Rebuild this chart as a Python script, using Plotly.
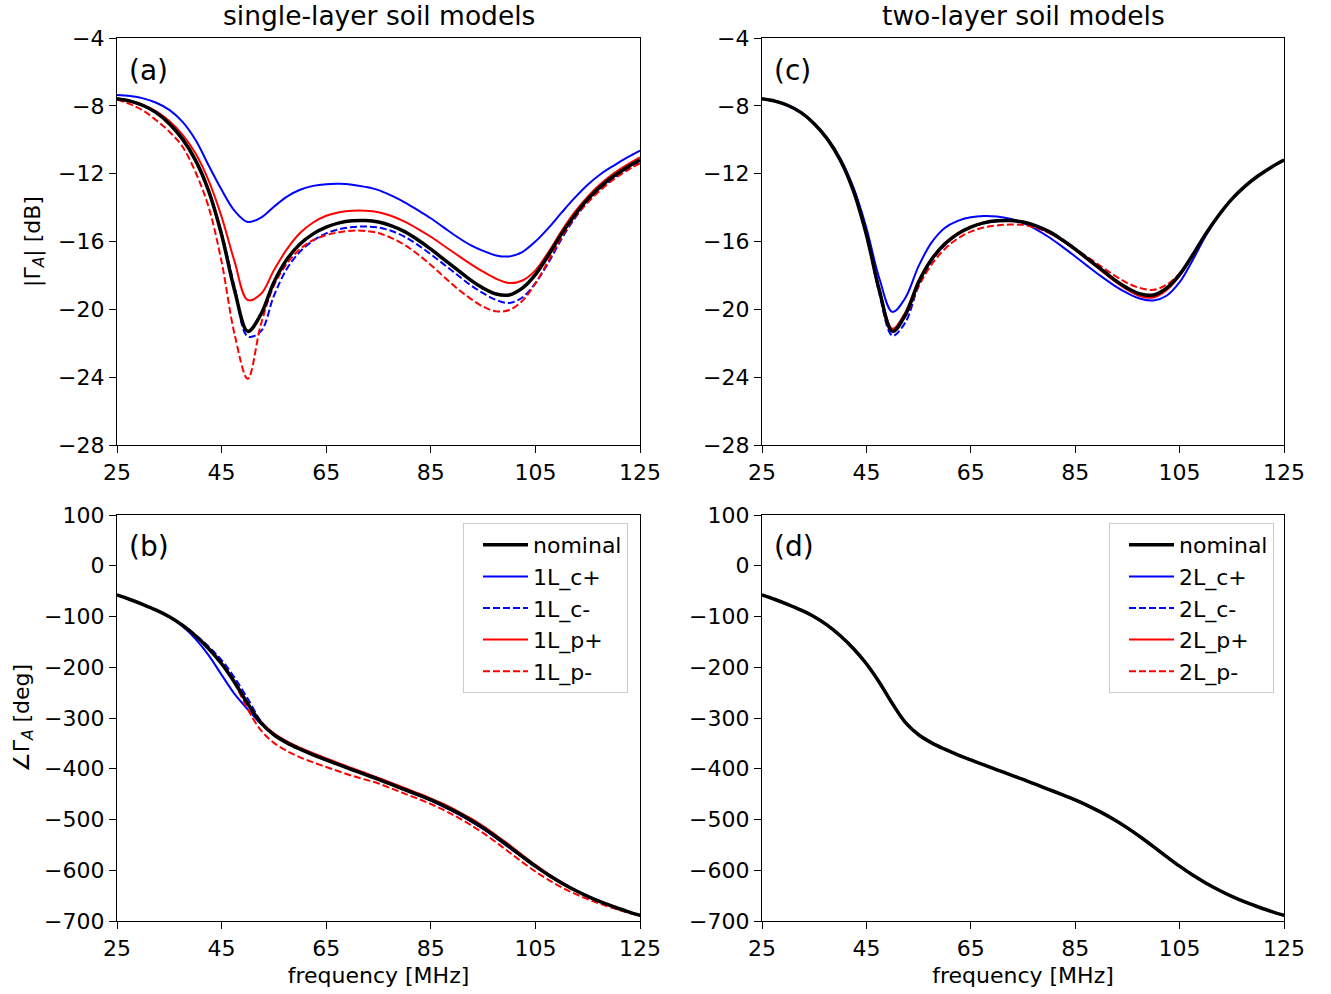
import plotly.graph_objects as go

# ---------------- data ----------------
FREQ = [25, 27.5, 30, 32.5, 35, 37.5, 40, 42.5, 45, 47.5, 50, 52.5, 55, 57.5, 60, 62.5, 65, 67.5, 70, 72.5,
        75, 77.5, 80, 82.5, 85, 87.5, 90, 92.5, 95, 97.5, 100, 102.5, 105, 107.5, 110, 112.5, 115, 117.5,
        120, 122.5, 125]

# |Gamma_A| [dB]
MAG_NOMINAL = [-7.58, -7.72, -7.98, -8.4, -9.05, -9.95, -11.2, -13.0, -15.6, -18.9, -21.3, -20.3, -18.4, -17.05,
               -16.15, -15.55, -15.15, -14.9, -14.78, -14.76, -14.85, -15.08, -15.42, -15.9, -16.45, -17.05,
               -17.65, -18.25, -18.75, -19.1, -19.15, -18.75, -17.95, -16.8, -15.55, -14.45, -13.5, -12.75,
               -12.14, -11.63, -11.2]
MAG_1L_CP = [-7.36, -7.42, -7.56, -7.82, -8.24, -8.93, -10.0, -11.5, -12.95, -14.2, -14.85, -14.6, -13.95,
             -13.35, -12.95, -12.72, -12.62, -12.6, -12.65, -12.78, -12.97, -13.3, -13.69, -14.15, -14.63,
             -15.18, -15.72, -16.2, -16.55, -16.82, -16.88, -16.62, -16.0, -15.2, -14.3, -13.43, -12.65,
             -12.02, -11.52, -11.06, -10.64]
MAG_1L_CM = [-7.6, -7.74, -8.0, -8.42, -9.05, -9.95, -11.2, -13.0, -15.5, -18.7, -21.6, -21.3, -19.2, -17.6,
             -16.6, -15.95, -15.52, -15.28, -15.15, -15.12, -15.17, -15.38, -15.72, -16.2, -16.75, -17.35,
             -17.95, -18.55, -19.05, -19.45, -19.62, -19.3, -18.45, -17.25, -15.85, -14.65, -13.65, -12.88,
             -12.25, -11.74, -11.29]
MAG_1L_PP = [-7.56, -7.7, -7.95, -8.33, -8.9, -9.7, -10.8, -12.4, -14.55, -17.2, -19.45, -19.1, -17.7, -16.45,
             -15.5, -14.88, -14.48, -14.27, -14.18, -14.18, -14.27, -14.5, -14.83, -15.25, -15.72, -16.25,
             -16.78, -17.3, -17.78, -18.2, -18.45, -18.3, -17.7, -16.62, -15.38, -14.27, -13.35, -12.6,
             -11.98, -11.48, -11.04]
MAG_1L_PM = [-7.62, -7.9, -8.28, -8.85, -9.52, -10.4, -11.9, -13.95, -17.2, -21.5, -24.1, -20.9, -18.6,
             -17.3, -16.45, -15.92, -15.62, -15.45, -15.36, -15.38, -15.5, -15.8, -16.2, -16.75, -17.38,
             -18.08, -18.76, -19.35, -19.84, -20.12, -20.04, -19.5, -18.48, -17.12, -15.74, -14.6, -13.71,
             -12.95, -12.33, -11.82, -11.39]

MAG_2L_CP = [-7.6, -7.74, -8.0, -8.42, -9.05, -9.92, -11.1, -12.8, -15.2, -18.2, -20.15, -19.3, -17.45, -16.05,
             -15.2, -14.78, -14.57, -14.5, -14.53, -14.66, -14.9, -15.28, -15.75, -16.3, -16.88, -17.48,
             -18.06, -18.6, -19.05, -19.38, -19.48, -19.2, -18.4, -17.1, -15.68, -14.48, -13.5, -12.76,
             -12.14, -11.63, -11.18]
MAG_2L_CM = [-7.58, -7.72, -7.98, -8.4, -9.05, -9.95, -11.2, -13.0, -15.6, -19.1, -21.55, -20.75, -18.6,
             -17.15, -16.22, -15.58, -15.17, -14.92, -14.8, -14.78, -14.87, -15.1, -15.45, -15.93, -16.48,
             -17.08, -17.68, -18.28, -18.78, -19.15, -19.2, -18.8, -17.98, -16.82, -15.55, -14.45, -13.5,
             -12.75, -12.14, -11.63, -11.2]
MAG_2L_PP = [-7.58, -7.72, -7.98, -8.4, -9.05, -9.95, -11.2, -13.0, -15.6, -18.85, -21.15, -20.15, -18.3,
             -17.0, -16.1, -15.5, -15.12, -14.88, -14.76, -14.76, -14.86, -15.1, -15.45, -15.95, -16.5,
             -17.1, -17.72, -18.33, -18.85, -19.23, -19.3, -18.88, -18.02, -16.83, -15.56, -14.45, -13.5,
             -12.75, -12.14, -11.63, -11.2]
MAG_2L_PM = [-7.58, -7.72, -7.98, -8.4, -9.05, -9.95, -11.2, -13.0, -15.6, -18.9, -21.25, -20.4, -18.65,
             -17.35, -16.45, -15.82, -15.42, -15.17, -15.05, -15.0, -15.02, -15.2, -15.5, -15.93, -16.43,
             -16.95, -17.48, -18.0, -18.45, -18.75, -18.85, -18.55, -17.88, -16.8, -15.6, -14.48, -13.5,
             -12.75, -12.14, -11.63, -11.2]

# angle Gamma_A [deg]
PH_NOMINAL = [-57.6, -66.5, -76.5, -87.5, -100.5, -117, -138, -163, -193, -230, -272, -309, -333, -349, -361.5,
              -372.5, -382.5, -392.5, -402, -411.5, -421, -431, -441, -451, -461.5, -473, -486, -500.5,
              -516.5, -534.5, -553.5, -573, -592, -609.5, -625, -639, -651.5, -662.5, -672, -681, -689]
PH_1L_CP = [-57.6, -66.5, -76.5, -87.5, -101, -119, -144, -176, -215, -253, -283, -311, -333, -349, -361.5,
            -372.5, -382.5, -392.5, -402, -411.5, -421, -431, -441.5, -452, -462.5, -475, -488, -502.5,
            -518.5, -536.5, -555.5, -574, -593, -610, -625, -639, -651.5, -662.5, -672, -681, -689]
PH_1L_CM = [-57.6, -66.5, -76.5, -87.5, -100.5, -116, -136, -159, -186, -221, -262, -306, -332.5, -349,
            -361.5, -372.5, -382.5, -392.5, -402, -411.5, -421, -431, -441, -451.5, -462, -474.5, -487.5,
            -502, -518, -536, -555, -574, -592.5, -609.5, -625, -639, -651.5, -662.5, -672, -681, -689]
PH_1L_PP = [-57.6, -66.5, -76.5, -87.5, -100.5, -117, -138, -162.5, -192, -228, -270, -307, -330, -346,
            -358.5, -369.5, -379.5, -389.5, -399, -408.5, -418, -428, -438, -448, -458.5, -470, -483, -497,
            -513, -531, -550, -570, -589.5, -607.5, -623.5, -638, -651, -662, -671.5, -680.5, -689]
PH_1L_PM = [-57.6, -66.5, -76.5, -87.5, -100.5, -117, -138, -163, -193, -232, -283, -324, -349, -365, -377.5,
            -387.5, -396.5, -405.5, -414, -421.5, -429, -439, -449, -459, -469.5, -481.5, -495, -510,
            -526.5, -545, -564.5, -584, -602.5, -619, -633.5, -646, -657, -666.5, -675, -683, -690]

PH_2L_CP = [-57.6, -66.5, -76.5, -87.5, -100.5, -117, -138.5, -164, -194, -231, -272.5, -309.5, -333, -349,
            -361.5, -372.5, -382.5, -392.5, -402, -411.5, -421, -431, -441, -451.5, -462, -474, -487, -501.5,
            -517.5, -535.5, -554.5, -574, -592.5, -609.5, -625, -639, -651.5, -662.5, -672, -681, -689]
PH_2L_CM = [-57.6, -66.5, -76.5, -87.5, -100.5, -117, -138, -163, -192.5, -229.5, -271.5, -309, -333, -349,
            -361.5, -372.5, -382.5, -392.5, -402, -411.5, -421, -431, -441, -451, -461.5, -473, -486, -500.5,
            -516.5, -534.5, -553.5, -573, -592, -609.5, -625, -639, -651.5, -662.5, -672, -681, -689]
PH_2L_PP = [-57.6, -66.5, -76.5, -87.5, -100.5, -117, -138, -163, -193, -230, -272, -309, -333, -349, -361.5,
            -372.5, -382.5, -392.5, -402, -411.5, -421, -431, -441, -451, -461.5, -473, -486, -500.5,
            -516.5, -534.5, -553.5, -573, -592, -609.5, -625, -639, -651.5, -662.5, -672, -681, -689]
PH_2L_PM = [-57.6, -66.5, -76.5, -87.5, -100.5, -117, -138, -163, -193, -230.5, -272.5, -309.5, -333, -349,
            -361.5, -372.5, -382.5, -392.5, -402, -411.5, -421, -431, -441, -451, -461.5, -473, -486, -500.5,
            -516.5, -534.5, -553.5, -573, -592, -609.5, -625, -639, -651.5, -662.5, -672, -681, -689]

NAMES_1L = ["1L_c+", "1L_c-", "1L_p+", "1L_p-"]
NAMES_2L = ["2L_c+", "2L_c-", "2L_p+", "2L_p-"]
X_TICKS = [25, 45, 65, 85, 105, 125]
MAG_TICKS = [-28, -24, -20, -16, -12, -8, -4]
PH_TICKS = [-700, -600, -500, -400, -300, -200, -100, 0, 100]

# ---------------- styling ----------------
FONT = "DejaVu Sans"
W, H = 1331, 994
STYLES = [("#0000ff", "solid"), ("#0000ff", "7px,3px"), ("#ff0000", "solid"), ("#ff0000", "7px,3px")]

fig = go.Figure()

panels = [
    ("x", "y", MAG_NOMINAL, [MAG_1L_CP, MAG_1L_CM, MAG_1L_PP, MAG_1L_PM], NAMES_1L, None),
    ("x2", "y2", MAG_NOMINAL, [MAG_2L_CP, MAG_2L_CM, MAG_2L_PP, MAG_2L_PM], NAMES_2L, None),
    ("x3", "y3", PH_NOMINAL, [PH_1L_CP, PH_1L_CM, PH_1L_PP, PH_1L_PM], NAMES_1L, "legend"),
    ("x4", "y4", PH_NOMINAL, [PH_2L_CP, PH_2L_CM, PH_2L_PP, PH_2L_PM], NAMES_2L, "legend2"),
]

for xa, ya, nom, variants, names, leg in panels:
    show = leg is not None
    for i, (vals, nm) in enumerate(zip(variants, names)):
        col, dash = STYLES[i]
        kw = dict(legend=leg) if show else {}
        fig.add_trace(go.Scatter(
            x=FREQ, y=vals, name=nm, mode="lines", xaxis=xa, yaxis=ya,
            line=dict(color=col, width=2, dash=dash, shape="spline", smoothing=1.0),
            showlegend=show, legendrank=i + 2, legendgroup=(leg or "") + nm, **kw))
    kw = dict(legend=leg) if show else {}
    fig.add_trace(go.Scatter(
        x=FREQ, y=nom, name="nominal", mode="lines", xaxis=xa, yaxis=ya,
        line=dict(color="black", width=3.5, shape="spline", smoothing=1.0),
        showlegend=show, legendrank=1, legendgroup=(leg or "") + "nominal", **kw))


def px_x(p):
    return p / W


def px_y(p):
    return 1 - p / H


XD_L = [px_x(117), px_x(640)]
XD_R = [px_x(762), px_x(1284)]
YD_T = [px_y(445), px_y(38)]
YD_B = [px_y(921), px_y(515)]

axis_common = dict(
    showline=True, linecolor="black", linewidth=1.3, mirror=True,
    ticks="outside", ticklen=7, tickwidth=1.3, tickcolor="black",
    showgrid=False, zeroline=False, automargin=False,
    tickfont=dict(family=FONT, size=22, color="black"),
)

xcommon = dict(axis_common, range=[25, 125], tickvals=X_TICKS)
title_font = dict(family=FONT, size=22, color="black")
leg_common = dict(yanchor="top", xanchor="right", y=px_y(523),
                  bgcolor="rgba(255,255,255,0.8)", bordercolor="#cccccc", borderwidth=1,
                  font=dict(family=FONT, size=22, color="black"), itemwidth=45,
                  tracegroupgap=0, traceorder="grouped", indentation=14)

fig.update_layout(
    width=W, height=H,
    margin=dict(l=0, r=0, t=0, b=0, autoexpand=False),
    paper_bgcolor="white", plot_bgcolor="white",
    font=dict(family=FONT, color="black"),
    xaxis=dict(xcommon, domain=XD_L, anchor="y"),
    yaxis=dict(axis_common, domain=YD_T, anchor="x", range=[-28, -4], tickvals=MAG_TICKS,
               title=dict(text="|Γ<sub><i>A</i></sub>| [dB]", font=title_font, standoff=11)),
    xaxis2=dict(xcommon, domain=XD_R, anchor="y2"),
    yaxis2=dict(axis_common, domain=YD_T, anchor="x2", range=[-28, -4], tickvals=MAG_TICKS),
    xaxis3=dict(xcommon, domain=XD_L, anchor="y3",
                title=dict(text="frequency [MHz]", font=title_font, standoff=8)),
    yaxis3=dict(axis_common, domain=YD_B, anchor="x3", range=[-700, 100], tickvals=PH_TICKS,
                title=dict(text="∠Γ<sub><i>A</i></sub> [deg]", font=title_font, standoff=8)),
    xaxis4=dict(xcommon, domain=XD_R, anchor="y4",
                title=dict(text="frequency [MHz]", font=title_font, standoff=8)),
    yaxis4=dict(axis_common, domain=YD_B, anchor="x4", range=[-700, 100], tickvals=PH_TICKS),
    legend=dict(leg_common, x=px_x(628)),
    legend2=dict(leg_common, x=px_x(1274)),
)

annots = [
    ("single-layer soil models", px_x(378.5), px_y(15), "center", 26.5),
    ("two-layer soil models", px_x(1023), px_y(15), "center", 26.5),
    ("(a)", px_x(127), px_y(70), "left", 28),
    ("(c)", px_x(772), px_y(70), "left", 28),
    ("(b)", px_x(127), px_y(546), "left", 28),
    ("(d)", px_x(772), px_y(546), "left", 28),
]
for text, ax, ay, xanchor, size in annots:
    fig.add_annotation(text=text, x=ax, y=ay, xref="paper", yref="paper",
                       xanchor=xanchor, yanchor="middle", showarrow=False,
                       font=dict(family=FONT, size=size, color="black"))

fig.write_html("out.html")
